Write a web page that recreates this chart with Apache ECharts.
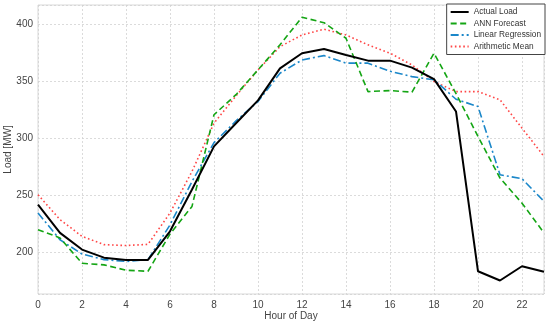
<!DOCTYPE html>
<html><head><meta charset="utf-8">
<script src="https://cdn.jsdelivr.net/npm/echarts@6/dist/echarts.min.js"></script>
<style>html,body{margin:0;padding:0;background:#fff}#c{width:550px;height:324px}</style>
</head><body><div id="c"></div>
<script>
const hours = [0,1,2,3,4,5,6,7,8,9,10,11,12,13,14,15,16,17,18,19,20,21,22,23];
const actualLoad = [241.7,217,202.4,195.3,193.3,193.3,218.4,255,292.7,313,333,361,374.3,378,372.8,367.8,367.8,361.7,351.6,323.3,183.4,175.3,187.8,182.9];
const annForecast = [219.8,212.6,190.4,189,184.3,183.4,216,240.2,320.4,338,359.7,381.6,405.8,401,387.4,340.7,341.6,340.2,374.3,339,301.4,265,243,217];
const linearRegression = [234.4,211,198.5,193.6,192,193.6,224,262,296,315,332,356.8,368.4,372.2,365.6,365.6,358.5,353.8,351,334,327.6,267.9,264.4,244.6];
const arithmeticMean = [250.4,228.6,214,206.7,205.9,207,234.4,270.8,313,337,359.7,380,390.3,395.3,390.3,381.6,374.3,364,349.5,340.7,340.7,333.5,308.7,283.9];
const seriesNames = ['Actual Load','ANN Forecast','Linear Regression','Arithmetic Mean'];
const xTitle = 'Hour of Day';
const yTitle = 'Load [MW]';

const pair = arr => hours.map((h,i)=>[h,arr[i]]);
const chart = echarts.init(document.getElementById('c'), null, {renderer:'canvas'});
const font = 'Liberation Sans, Arial, sans-serif';
chart.setOption({
  animation:false,
  backgroundColor:'#fff',
  grid:{left:38,right:6,top:5,bottom:30,containLabel:false,outerBoundsMode:'none',
    show:true,borderColor:'#d9d9d9',borderWidth:1},
  xAxis:{type:'value',min:0,max:23,interval:2,
    name:xTitle,nameLocation:'middle',nameGap:17,nameMoveOverlap:false,
    nameTextStyle:{fontFamily:font,fontSize:10,color:'#444'},
    axisLine:{show:false},axisTick:{show:false},
    axisLabel:{fontFamily:font,fontSize:10,color:'#444',margin:6,showMaxLabel:false,
      formatter:v=>v===23?'':String(v)},
    splitLine:{show:true,lineStyle:{color:'#d2d2d2',type:[2,2],width:0.8}}},
  yAxis:{type:'value',min:163.5,max:416.5,splitNumber:5,
    name:yTitle,nameLocation:'middle',nameGap:25,nameMoveOverlap:false,
    nameTextStyle:{fontFamily:font,fontSize:10,color:'#444'},
    axisLine:{show:false},axisTick:{show:false},
    axisLabel:{fontFamily:font,fontSize:10,color:'#444',margin:5,showMinLabel:false,showMaxLabel:false},
    splitLine:{show:true,lineStyle:{color:'#d2d2d2',type:[2,2],width:0.8}}},
  legend:{orient:'vertical',right:5,top:4,
    backgroundColor:'#fff',borderColor:'#444',borderWidth:1,borderRadius:0,
    padding:[4,4,4,3],itemGap:3.5,itemWidth:18,itemHeight:8,
    itemStyle:{opacity:0},
    textStyle:{fontFamily:font,fontSize:8.3,color:'#333'},
    data:seriesNames},
  series:[
    {name:seriesNames[0],type:'line',data:pair(actualLoad),symbol:'none',z:5,
      lineStyle:{color:'#000',width:2,type:'solid'},itemStyle:{color:'#000'}},
    {name:seriesNames[1],type:'line',data:pair(annForecast),symbol:'none',z:4,
      lineStyle:{color:'#14a514',width:1.6,type:[6,3.5]},itemStyle:{color:'#14a514'}},
    {name:seriesNames[2],type:'line',data:pair(linearRegression),symbol:'none',z:3,
      lineStyle:{color:'#1b87c9',width:1.6,type:[8,3,2,3]},itemStyle:{color:'#1b87c9'}},
    {name:seriesNames[3],type:'line',data:pair(arithmeticMean),symbol:'none',z:2,
      lineStyle:{color:'#ff4646',width:1.6,type:[1.6,2.6]},itemStyle:{color:'#ff4646'}}
  ]
});
</script></body></html>
